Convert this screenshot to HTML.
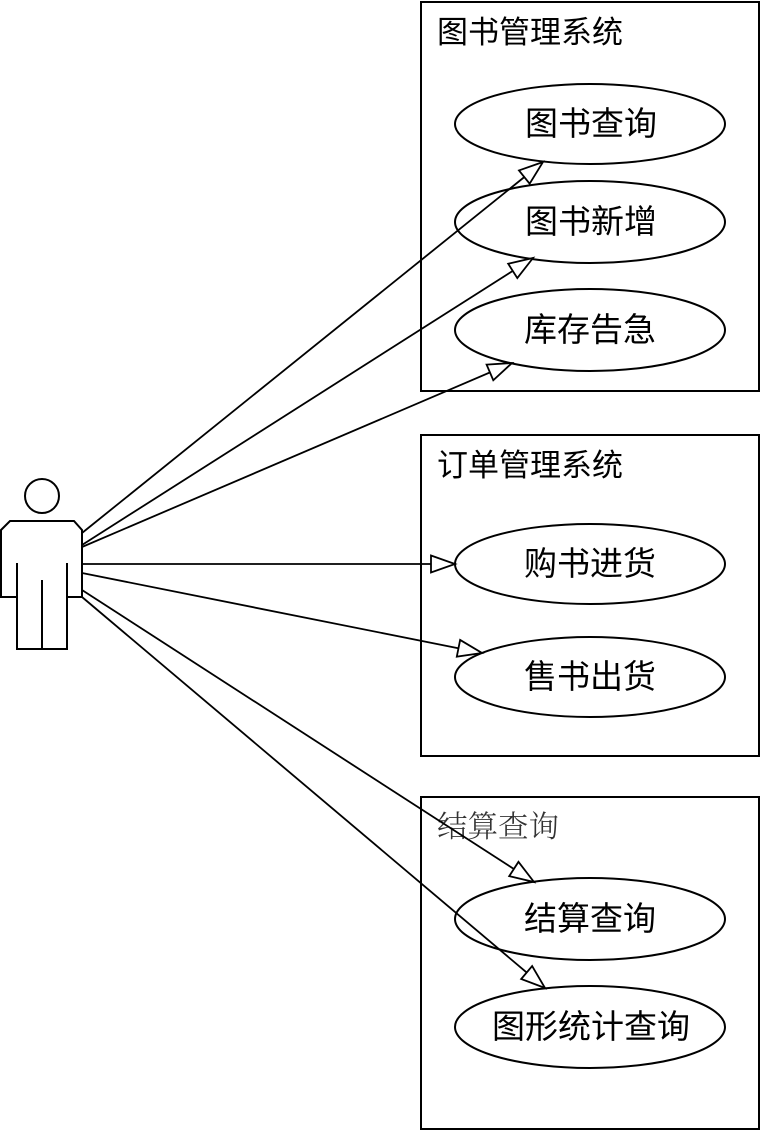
<!DOCTYPE html>
<html><head><meta charset="utf-8"><style>
html,body{margin:0;padding:0;background:#fff}
svg{display:block}
text{font-family:"Liberation Sans","WenQuanYi Zen Hei","Noto Sans CJK SC",sans-serif;fill:#000;font-weight:400}
.t{font-size:31px}
.e{font-size:33px;text-anchor:middle}
</style></head><body>
<svg width="761" height="1131" viewBox="0 0 761 1131" xmlns="http://www.w3.org/2000/svg">
<defs><marker id="a" markerUnits="userSpaceOnUse" markerWidth="30" markerHeight="24" refX="25" refY="10" orient="auto" overflow="visible"><path d="M1 1.5 L25 10 L1 18.5 Z" fill="#fff" stroke="#000" stroke-width="1.8"/></marker></defs>
<g fill="#fff" stroke="#000" stroke-width="2">
<rect x="421" y="2" width="338" height="389"/>
<rect x="421" y="435" width="338" height="321"/>
<rect x="421" y="797" width="338" height="332"/>
<ellipse cx="590" cy="124" rx="135" ry="40"/>
<ellipse cx="590" cy="222" rx="135" ry="41"/>
<ellipse cx="590" cy="330" rx="135" ry="41"/>
<ellipse cx="590" cy="564" rx="135" ry="40"/>
<ellipse cx="590" cy="677" rx="135" ry="40"/>
<ellipse cx="590" cy="919" rx="135" ry="41"/>
<ellipse cx="590" cy="1027" rx="135" ry="41"/>
<circle cx="42" cy="496" r="17"/>
<path d="M1 530 L10 521 L74 521 L82 530 L82 597 L67 597 L67 649 L17 649 L17 597 L1 597 Z"/>
<path d="M17 563 V597 M67 563 V597 M42 580 V649" fill="none"/>
</g>
<g>
<text class="t" x="437" y="43">图书管理系统</text>
<text class="t" x="437" y="476">订单管理系统</text>
<text x="437" y="837" style="font-family:'Liberation Serif','Noto Serif CJK SC',serif;font-size:30.5px;fill:#333;font-weight:300">结算查询</text>
<text class="e" x="591" y="135">图书查询</text>
<text class="e" x="591" y="233">图书新增</text>
<text class="e" x="590" y="341">库存告急</text>
<text class="e" x="590" y="575">购书进货</text>
<text class="e" x="590" y="688">售书出货</text>
<text class="e" x="590" y="930">结算查询</text>
<text class="e" x="591" y="1038">图形统计查询</text>
</g>
<g stroke="#000" stroke-width="1.8" fill="none">
<line x1="82" y1="533" x2="543" y2="162" marker-end="url(#a)"/>
<line x1="82" y1="545" x2="533" y2="258" marker-end="url(#a)"/>
<line x1="82" y1="547" x2="512" y2="363" marker-end="url(#a)"/>
<line x1="82" y1="564" x2="455" y2="564" marker-end="url(#a)"/>
<line x1="82" y1="573" x2="482" y2="653" marker-end="url(#a)"/>
<line x1="82" y1="590" x2="534" y2="882" marker-end="url(#a)"/>
<line x1="82" y1="597" x2="545" y2="988" marker-end="url(#a)"/>
</g>
</svg>
</body></html>
